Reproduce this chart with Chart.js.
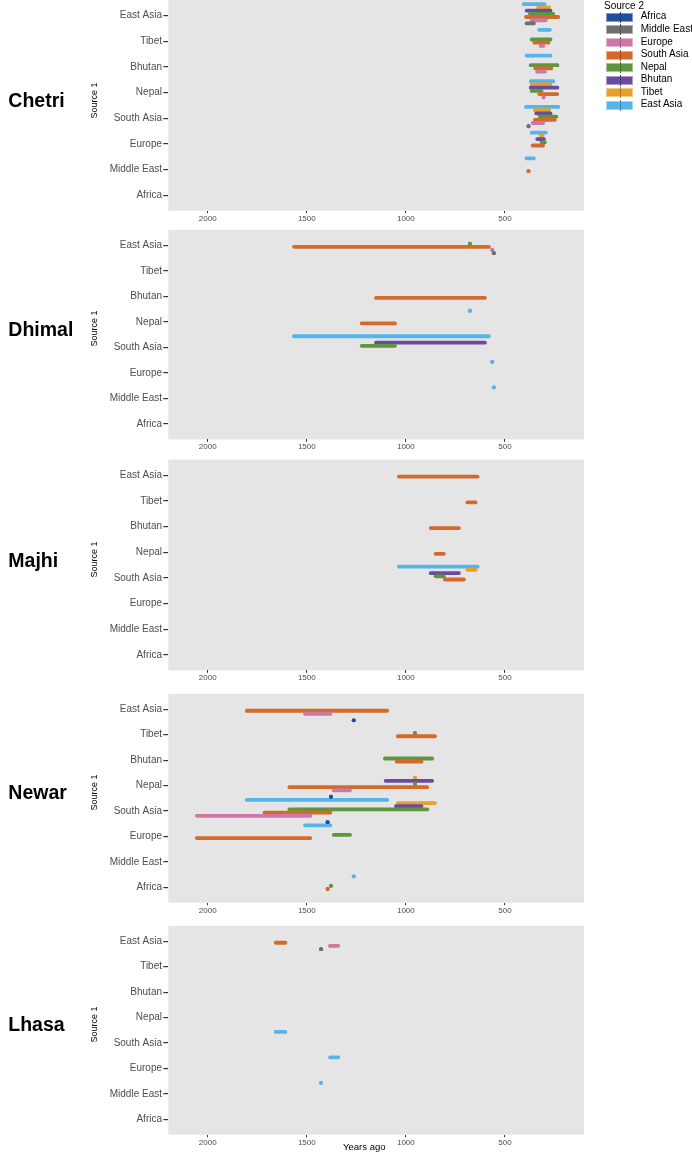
<!DOCTYPE html>
<html>
<head>
<meta charset="utf-8">
<script src="https://cdn.jsdelivr.net/npm/chart.js@4/dist/chart.umd.min.js"></script>
<style>
  html, body { margin: 0; padding: 0; background: #fff; }
  body { width: 692px; height: 1152px; position: relative; overflow: hidden; font-family: "Liberation Sans", Arial, sans-serif; }
  canvas { position: absolute; left: 0; }
  .pname { position: absolute; left: 8.3px; font-weight: bold; font-size: 19.5px; line-height: 20px; color: #000; white-space: nowrap; }
  .ytitle { position: absolute; width: 80px; text-align: center; font-size: 9px; line-height: 11px; color: #000; transform: rotate(-90deg); white-space: nowrap; }
  .xtitle { position: absolute; width: 100px; text-align: center; font-size: 9.5px; line-height: 11px; color: #000; white-space: nowrap; }
  .lg { position: absolute; font-size: 10px; line-height: 12px; color: #000; white-space: nowrap; }
  .key { position: absolute; width: 27.3px; height: 9px; box-sizing: border-box; }
  .keyline { position: absolute; left: 12.5px; width: 1px; top: -2px; height: 11px; }
</style>
</head>
<body>
<script>
// ---------------- data ----------------
const source1Categories = ['Africa', 'Middle East', 'Europe', 'South Asia', 'Nepal', 'Bhutan', 'Tibet', 'East Asia'];
const source2Groups = ['Africa', 'Middle East', 'Europe', 'South Asia', 'Nepal', 'Bhutan', 'Tibet', 'East Asia'];
const source2Colors = ['#1f4e9c', '#6e6e6e', '#cc79a7', '#d5692b', '#5e963f', '#6a4c9c', '#e8a02a', '#56b4e9'];
const xTickValues = [500, 1000, 1500, 2000];
const populations = ['Chetri', 'Dhimal', 'Majhi', 'Newar', 'Lhasa'];

// rows: [Source 1, Source 2, from (years ago), to (years ago)]
const chetri = [
  ['East Asia', 'East Asia', 405, 300], ['East Asia', 'Tibet', 332, 277], ['East Asia', 'Bhutan', 391, 270],
  ['East Asia', 'Nepal', 374, 256], ['East Asia', 'South Asia', 394, 231], ['East Asia', 'Europe', 365, 293],
  ['East Asia', 'Middle East', 391, 354],
  ['Tibet', 'East Asia', 327, 273], ['Tibet', 'Nepal', 365, 270], ['Tibet', 'South Asia', 352, 280], ['Tibet', 'Europe', 320, 307],
  ['Bhutan', 'East Asia', 391, 270], ['Bhutan', 'Nepal', 370, 235], ['Bhutan', 'South Asia', 347, 266], ['Bhutan', 'Europe', 337, 298],
  ['Nepal', 'East Asia', 369, 256], ['Nepal', 'Tibet', 365, 270], ['Nepal', 'Bhutan', 370, 235], ['Nepal', 'Nepal', 365, 315],
  ['Nepal', 'South Asia', 327, 236], ['Nepal', 'Europe', 305, 305],
  ['South Asia', 'East Asia', 394, 231], ['South Asia', 'Tibet', 349, 277], ['South Asia', 'Bhutan', 342, 270],
  ['South Asia', 'Nepal', 324, 240], ['South Asia', 'South Asia', 349, 248], ['South Asia', 'Europe', 360, 307],
  ['South Asia', 'Middle East', 381, 381],
  ['Europe', 'East Asia', 365, 293], ['Europe', 'Tibet', 320, 310], ['Europe', 'Bhutan', 337, 303],
  ['Europe', 'Nepal', 315, 298], ['Europe', 'South Asia', 360, 307],
  ['Middle East', 'East Asia', 391, 354], ['Middle East', 'South Asia', 381, 381]
];
const dhimal = [
  ['East Asia', 'South Asia', 1565, 581], ['East Asia', 'Nepal', 677, 677], ['East Asia', 'Europe', 564, 564],
  ['East Asia', 'Middle East', 556, 556],
  ['Bhutan', 'South Asia', 1151, 601],
  ['Nepal', 'East Asia', 677, 677], ['Nepal', 'South Asia', 1223, 1055],
  ['South Asia', 'East Asia', 1565, 581], ['South Asia', 'Bhutan', 1151, 601], ['South Asia', 'Nepal', 1223, 1055],
  ['Europe', 'East Asia', 564, 564],
  ['Middle East', 'East Asia', 556, 556]
];
const majhi = [
  ['East Asia', 'South Asia', 1035, 638], ['Tibet', 'South Asia', 690, 648], ['Bhutan', 'South Asia', 875, 732],
  ['Nepal', 'South Asia', 850, 808],
  ['South Asia', 'East Asia', 1035, 638], ['South Asia', 'Tibet', 690, 648], ['South Asia', 'Bhutan', 875, 732],
  ['South Asia', 'Nepal', 850, 808], ['South Asia', 'South Asia', 803, 707]
];
const newar = [
  ['East Asia', 'South Asia', 1803, 1094], ['East Asia', 'Europe', 1509, 1381], ['East Asia', 'Africa', 1263, 1263],
  ['Tibet', 'Nepal', 954, 954], ['Tibet', 'South Asia', 1041, 853],
  ['Bhutan', 'Nepal', 1106, 867], ['Bhutan', 'South Asia', 1046, 921],
  ['Nepal', 'Tibet', 954, 954], ['Nepal', 'Bhutan', 1102, 867], ['Nepal', 'Nepal', 954, 954],
  ['Nepal', 'South Asia', 1588, 892], ['Nepal', 'Europe', 1364, 1282], ['Nepal', 'Africa', 1378, 1378],
  ['South Asia', 'East Asia', 1803, 1094], ['South Asia', 'Tibet', 1041, 853], ['South Asia', 'Bhutan', 1050, 921],
  ['South Asia', 'Nepal', 1588, 892], ['South Asia', 'South Asia', 1714, 1381], ['South Asia', 'Europe', 2055, 1482],
  ['South Asia', 'Africa', 1395, 1395],
  ['Europe', 'East Asia', 1509, 1381], ['Europe', 'Nepal', 1364, 1282], ['Europe', 'South Asia', 2055, 1482],
  ['Africa', 'East Asia', 1263, 1263], ['Africa', 'Nepal', 1378, 1378], ['Africa', 'South Asia', 1395, 1395]
];
const lhasa = [
  ['East Asia', 'South Asia', 1657, 1608], ['East Asia', 'Middle East', 1428, 1428], ['East Asia', 'Europe', 1383, 1341],
  ['South Asia', 'East Asia', 1657, 1608],
  ['Europe', 'East Asia', 1383, 1341],
  ['Middle East', 'East Asia', 1428, 1428]
];
const populationRows = [chetri, dhimal, majhi, newar, lhasa];

// ---------------- layout / style ----------------
const FONT = '"Liberation Sans", Arial, sans-serif';
const X_MIN = 101, X_MAX = 2199;
const DODGE = 0.125;
const PANEL_TOPS = [0, 228.7, 459.7, 692, 924];
const PANEL_H = 210.7;
const PLOT_LEFT = 168.3, PLOT_RIGHT = 584;
const W = 692;

const bgPlugin = {
  id: 'panelBg',
  beforeDraw(chart) {
    const a = chart.chartArea, ctx = chart.ctx;
    ctx.save();
    ctx.fillStyle = '#e5e5e5';
    ctx.fillRect(a.left, a.top, a.right - a.left, a.bottom - a.top);
    ctx.restore();
  }
};

function buildDatasets(rows) {
  return source2Groups.map((g, k) => {
    const pts = [];
    rows.filter(r => r[1] === g).forEach(r => {
      const y = source1Categories.indexOf(r[0]) + (k - 3.5) * DODGE;
      const dot = r[2] === r[3];
      pts.push({ x: r[2], y: y, dot: dot }, { x: r[3], y: y, dot: dot }, { x: r[3], y: null });
    });
    return {
      label: g,
      data: pts,
      showLine: true,
      spanGaps: false,
      borderColor: source2Colors[k],
      backgroundColor: source2Colors[k],
      borderWidth: 3.8,
      borderCapStyle: 'round',
      borderJoinStyle: 'round',
      pointRadius: c => (c.raw && c.raw.dot ? 1.9 : 0),
      pointBorderWidth: 0,
      pointHoverRadius: 0,
      pointBackgroundColor: source2Colors[k]
    };
  });
}

populations.forEach((name, i) => {
  const top = PANEL_TOPS[i];
  const cTop = Math.floor(top);
  const padTop = top - cTop;
  const H = (i < populations.length - 1) ? Math.floor(PANEL_TOPS[i + 1]) - cTop : 1152 - cTop;
  const cv = document.createElement('canvas');
  cv.width = W; cv.height = H;
  cv.style.top = cTop + 'px';
  cv.style.width = W + 'px'; cv.style.height = H + 'px';
  document.body.appendChild(cv);

  new Chart(cv, {
    type: 'scatter',
    data: { datasets: buildDatasets(populationRows[i]) },
    options: {
      responsive: false,
      animation: false,
      events: [],
      layout: { padding: { left: 0, right: W - PLOT_RIGHT, top: padTop, bottom: 0 } },
      plugins: { legend: { display: false }, tooltip: { enabled: false }, title: { display: false } },
      scales: {
        x: {
          type: 'linear', reverse: true, min: X_MIN, max: X_MAX,
          afterBuildTicks: s => { s.ticks = xTickValues.map(v => ({ value: v })); },
          afterFit: s => { s.height = H - padTop - PANEL_H; s.paddingLeft = 0; s.paddingRight = 0; },
          border: { display: false },
          grid: { drawOnChartArea: false, drawTicks: true, tickLength: 2.5, color: '#333333', lineWidth: 1 },
          ticks: { padding: 0.3, color: '#4d4d4d', font: { family: FONT, size: 8 }, maxRotation: 0, autoSkip: false,
                   callback: v => String(v) }
        },
        y: {
          type: 'linear', min: -0.6, max: 7.6,
          afterBuildTicks: s => { s.ticks = source1Categories.map((c, j) => ({ value: j })); },
          afterFit: s => { s.width = PLOT_LEFT; s.paddingTop = 0; s.paddingBottom = 0; },
          border: { display: false },
          grid: { drawOnChartArea: false, drawTicks: true, tickLength: 5, color: '#333333', lineWidth: 1.2 },
          ticks: { padding: 1.3, color: '#4d4d4d', font: { family: FONT, size: 10 }, autoSkip: false,
                   callback: v => source1Categories[v] }
        }
      }
    },
    plugins: [bgPlugin]
  });

  const pn = document.createElement('div');
  pn.className = 'pname';
  pn.textContent = name;
  pn.style.top = (top + 89.9) + 'px';
  document.body.appendChild(pn);

  const yt = document.createElement('div');
  yt.className = 'ytitle';
  yt.textContent = 'Source 1';
  yt.style.left = (93.5 - 40) + 'px';
  yt.style.top = (top + 100 - 5.5) + 'px';
  document.body.appendChild(yt);
});

// x axis title (bottom panel only)
const xt = document.createElement('div');
xt.className = 'xtitle';
xt.textContent = 'Years ago';
xt.style.left = (364.3 - 50) + 'px';
xt.style.top = '1140.7px';
document.body.appendChild(xt);

// legend (Source 2)
const lt = document.createElement('div');
lt.className = 'lg';
lt.textContent = 'Source 2';
lt.style.left = '604px';
lt.style.top = '-0.5px';
document.body.appendChild(lt);
source2Groups.forEach((g, k) => {
  const kc = 17.3 + 12.57 * k;
  const key = document.createElement('div');
  key.className = 'key';
  key.style.left = '606px';
  key.style.top = (kc - 4.5) + 'px';
  key.style.background = source2Colors[k];
  key.style.border = '1px solid rgba(255,255,255,0.45)';
  const ln = document.createElement('div');
  ln.className = 'keyline';
  ln.style.background = source2Colors[k];
  ln.style.filter = 'brightness(0.75)';
  key.appendChild(ln);
  document.body.appendChild(key);
  const lb = document.createElement('div');
  lb.className = 'lg';
  lb.textContent = g;
  lb.style.left = '640.7px';
  lb.style.top = (kc - 6.9) + 'px';
  document.body.appendChild(lb);
});
</script>
</body>
</html>
